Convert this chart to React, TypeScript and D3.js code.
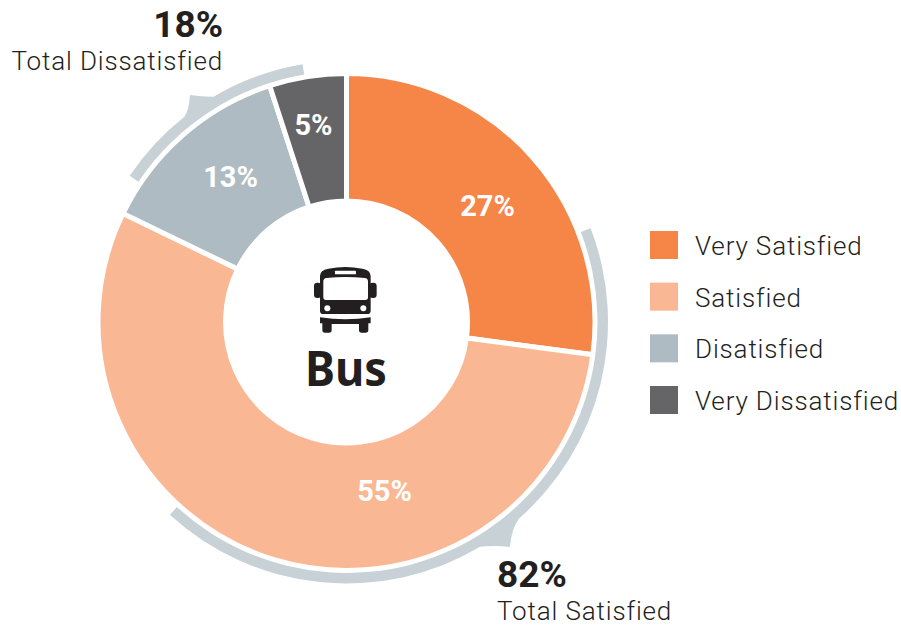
import React from "react"
import * as d3 from "d3"

const categories = ["Very Satisfied", "Satisfied", "Disatisfied", "Very Dissatisfied"]
// slice sizes as measured on the picture, the labels show them rounded
const values = [27.1, 55.1, 12.8, 5.0]
const colors = ["#F68648", "#FAB793", "#AEBBC2", "#656567"]

const totalLabels = ["82%", "18%"]
const totalNames = ["Total Satisfied", "Total Dissatisfied"]

const width = 901
const height = 627
const cx = 346.5
const cy = 322
const outer = 248.5
const inner = 121
const font = "Roboto, sans-serif"
const ink = "#231F20"
const bracket = "#C7D1D6"

// label spots, they are not on the slice centroids
const labelSpots = [[141, -116], [38, 169], [-116, -145], [-33, -197]]

const rad = (deg: number) => (deg * Math.PI) / 180
const polar = (deg: number, r: number): [number, number] => [
  Math.sin(rad(deg)) * r,
  -Math.cos(rad(deg)) * r,
]

// outer band with a small pointed tab aimed at the total label
const bandPath = (start: number, end: number, t0: number, tip: number, t1: number, tipR: number) => {
  const r0 = 251
  const r1 = 261.5
  const p = d3.path()
  const a = (deg: number) => rad(deg) - Math.PI / 2
  p.arc(0, 0, r0, a(start), a(end))
  p.arc(0, 0, r1, a(end), a(t1), true)
  const [tx, ty] = polar(tip, tipR)
  const [c1x, c1y] = polar((tip + t1) / 2, r1 + 5.5)
  const [c2x, c2y] = polar((tip + t0) / 2, r1 + 3)
  const [ex, ey] = polar(t0, r1)
  p.quadraticCurveTo(c1x, c1y, tx, ty)
  p.quadraticCurveTo(c2x, c2y, ex, ey)
  p.arc(0, 0, r1, a(t0), a(start), true)
  p.closePath()
  return p.toString()
}

const BusIcon = () => (
  <g transform="translate(280,240) scale(0.3333)" fill={ink}>
    <path d="M120 108 Q120 90 145 86 Q196 76 247 86 Q272 90 272 108 L272 212 Q272 222 262 222 L130 222 Q120 222 120 212 Z" />
    <rect x={102} y={128} width={22} height={46} rx={10} />
    <rect x={268} y={128} width={22} height={46} rx={10} />
    <path d="M120 232 Q196 244 272 232 L272 250 L265 250 L265 270 Q265 278 257 278 L245 278 Q237 278 237 270 L237 252 L155 252 L155 270 Q155 278 147 278 L135 278 Q127 278 127 270 L127 250 L120 250 Z" />
    <path fill="#fff" d="M130 124 Q130 115 140 114 Q196 108 254 114 Q264 115 264 124 L264 172 Q264 180 256 180 L138 180 Q130 180 130 172 Z" />
    <rect fill="#fff" x={165} y={92} width={63} height={11} rx={2} />
    <circle fill="#fff" cx={142} cy={205} r={9} />
    <circle fill="#fff" cx={250} cy={205} r={9} />
  </g>
)

export default function App() {
  const pie = d3.pie<number>().sort(null)(values)
  const arc = d3.arc<d3.PieArcDatum<number>>().innerRadius(inner).outerRadius(outer)
  const legendY = d3.scalePoint<string>().domain(categories).range([231, 386])

  return (
    <svg
      width={width}
      height={height}
      style={{ position: "absolute", left: 0, top: 0, background: "#fff" }}
      fontFamily={font}
    >
      <g transform={`translate(${cx},${cy})`}>
        {pie.map((d, i) => (
          <path key={i} d={arc(d) || ""} fill={colors[i]} stroke="#fff" strokeWidth={5} />
        ))}
        {pie.map((d, i) => (
          <text
            key={i}
            x={labelSpots[i][0]}
            y={labelSpots[i][1]}
            dy="0.35em"
            textAnchor="middle"
            fill="#fff"
            fontSize={29}
            fontWeight={700}
          >
            {Math.round(values[i])}%
          </text>
        ))}
        <path d={bandPath(69, 222.5, 138.8, 144, 149.3, 278)} fill={bracket} />
        <path d={bandPath(304, 350.3, 321.7, 325.4, 329.5, 275.7)} fill={bracket} />
      </g>

      <BusIcon />
      <text
        x={346}
        y={386}
        textAnchor="middle"
        fontFamily="'Noto Sans', sans-serif"
        fontWeight={700}
        fontSize={48}
        textLength={82}
        lengthAdjust="spacingAndGlyphs"
        fill={ink}
      >
        Bus
      </text>

      <text x={497} y={587} fontSize={37} fontWeight={700} fill={ink}>{totalLabels[0]}</text>
      <text x={497} y={620} fontSize={26} fontWeight={300} fill={ink} letterSpacing={0.85}>{totalNames[0]}</text>
      <text x={223} y={37} fontSize={37} fontWeight={700} fill={ink} textAnchor="end">{totalLabels[1]}</text>
      <text x={223} y={70} fontSize={26} fontWeight={300} fill={ink} letterSpacing={0.85} textAnchor="end">{totalNames[1]}</text>

      {categories.map((c, i) => (
        <g key={c} transform={`translate(650,${legendY(c)})`}>
          <rect width={28} height={28} fill={colors[i]} />
          <text x={45} y={24} fontSize={26} fontWeight={300} fill={ink} letterSpacing={0.85}>{c}</text>
        </g>
      ))}
    </svg>
  )
}
